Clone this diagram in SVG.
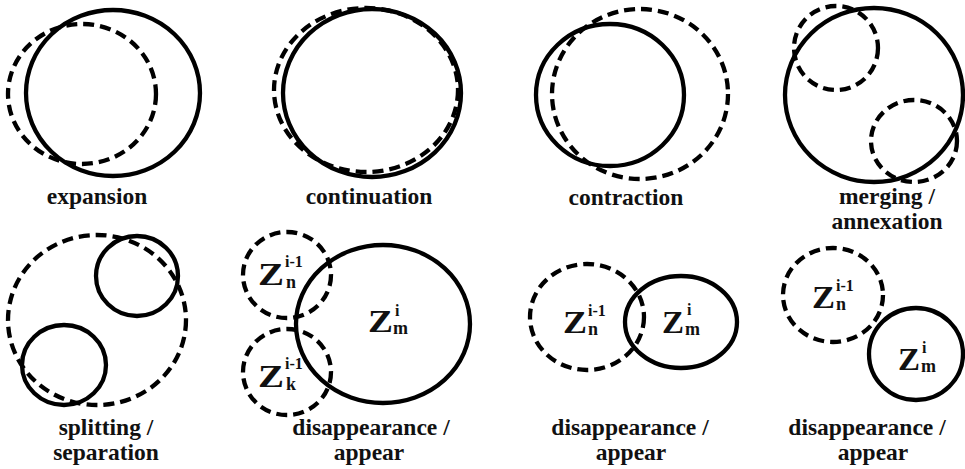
<svg xmlns="http://www.w3.org/2000/svg" width="965" height="469" viewBox="0 0 965 469">
<style>
.s{fill:none;stroke:#000;stroke-width:4.3}
.d{fill:none;stroke:#000;stroke-width:4.3;stroke-dasharray:11 6}
text{font-family:"Liberation Serif","DejaVu Serif",serif;font-weight:bold;fill:#111}
.lb{font-size:23.5px;text-anchor:middle}
.z{font-size:31px}
.sp{font-size:16px}
.sb{font-size:18px}
</style>
<rect width="965" height="469" fill="#fff"/>
<g id="connectors"/>
<g id="expansion">
<ellipse class="d" cx="82" cy="94" rx="74" ry="70"/>
<ellipse class="s" cx="113" cy="93" rx="87" ry="83"/>
<text class="lb" x="97" y="204">expansion</text>
</g>
<g id="continuation">
<ellipse class="d" cx="366" cy="90" rx="92" ry="82"/>
<ellipse class="s" cx="372" cy="93" rx="89" ry="84"/>
<text class="lb" x="369" y="204">continuation</text>
</g>
<g id="contraction">
<ellipse class="d" cx="640" cy="94" rx="88" ry="85"/>
<ellipse class="s" cx="610" cy="95" rx="74" ry="71"/>
<text class="lb" x="626" y="205">contraction</text>
</g>
<g id="merging">
<ellipse class="d" cx="836" cy="48" rx="42" ry="42"/>
<ellipse class="d" cx="914" cy="141" rx="43" ry="41"/>
<ellipse class="s" cx="874" cy="95" rx="89" ry="87"/>
<text class="lb" x="887" y="204">merging /</text>
<text class="lb" x="887" y="229">annexation</text>
</g>
<g id="splitting">
<ellipse class="d" cx="97" cy="320" rx="89" ry="85"/>
<ellipse class="s" cx="137" cy="276" rx="41" ry="40"/>
<ellipse class="s" cx="64" cy="365" rx="42" ry="40"/>
<text class="lb" x="106" y="435">splitting /</text>
<text class="lb" x="106" y="460">separation</text>
</g>
<g id="disappear1">
<ellipse class="d" cx="287" cy="275" rx="44" ry="43"/>
<ellipse class="d" cx="287" cy="372" rx="44" ry="43"/>
<ellipse class="s" cx="383" cy="324" rx="87" ry="79"/>
<text class="z" x="258" y="285" textLength="26" lengthAdjust="spacingAndGlyphs">Z</text><text class="sp" x="285" y="267">i-1</text><text class="sb" x="286" y="288">n</text>
<text class="z" x="258" y="387" textLength="26" lengthAdjust="spacingAndGlyphs">Z</text><text class="sp" x="285" y="369">i-1</text><text class="sb" x="286" y="390">k</text>
<text class="z" x="368" y="332" textLength="25" lengthAdjust="spacingAndGlyphs">Z</text><text class="sp" x="395" y="316">i</text><text class="sb" x="393" y="334">m</text>
<text class="lb" x="371" y="435">disappearance /</text>
<text class="lb" x="369" y="460">appear</text>
</g>
<g id="disappear2">
<ellipse class="d" cx="587" cy="317" rx="57" ry="53"/>
<ellipse class="s" cx="681" cy="322" rx="56" ry="46"/>
<text class="z" x="563" y="333" textLength="24" lengthAdjust="spacingAndGlyphs">Z</text><text class="sp" x="588" y="316">i-1</text><text class="sb" x="588" y="335">n</text>
<text class="z" x="662" y="333" textLength="22" lengthAdjust="spacingAndGlyphs">Z</text><text class="sp" x="687" y="315">i</text><text class="sb" x="685" y="335">m</text>
<text class="lb" x="630" y="435">disappearance /</text>
<text class="lb" x="631" y="460">appear</text>
</g>
<g id="disappear3">
<ellipse class="d" cx="833" cy="295" rx="50" ry="47"/>
<ellipse class="s" cx="916" cy="354" rx="47" ry="46"/>
<text class="z" x="812" y="308" textLength="23" lengthAdjust="spacingAndGlyphs">Z</text><text class="sp" x="836" y="291">i-1</text><text class="sb" x="836" y="310">n</text>
<text class="z" x="898" y="370" textLength="22" lengthAdjust="spacingAndGlyphs">Z</text><text class="sp" x="922" y="353">i</text><text class="sb" x="921" y="372">m</text>
<text class="lb" x="867" y="435">disappearance /</text>
<text class="lb" x="873" y="460">appear</text>
</g>
</svg>
